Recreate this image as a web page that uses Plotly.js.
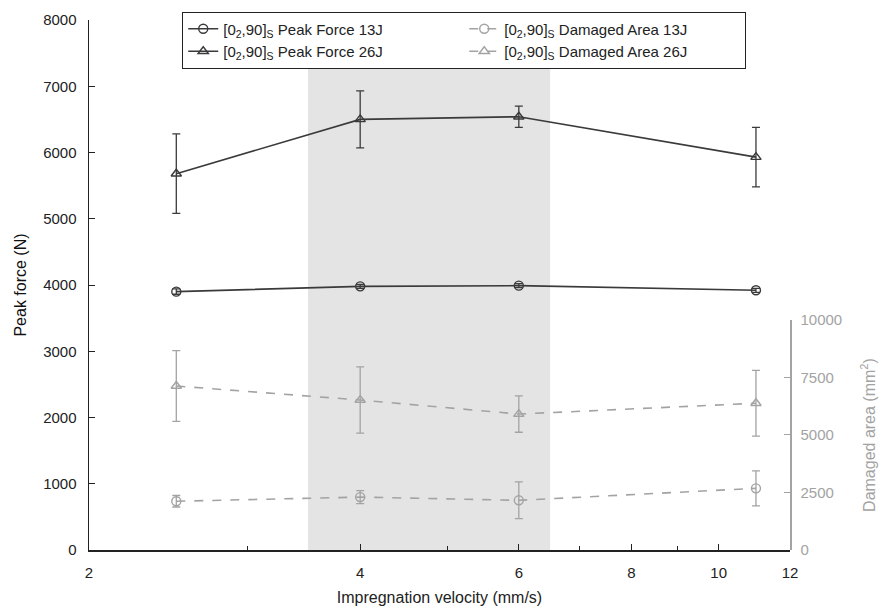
<!DOCTYPE html>
<html>
<head>
<meta charset="utf-8">
<script src="https://cdn.plot.ly/plotly-3.0.1.min.js"></script>
<style>html,body{margin:0;padding:0;background:#fff;}#chart{width:882px;height:611px;}</style>
</head>
<body>
<div id="chart"></div>
<script>
// Impregnation velocity (mm/s)
const velocity = [2.5, 4, 6, 11];

// Peak force (N)
const peakForce13 = [3900, 3980, 3990, 3920];
const peakForce13Err = [40, 30, 30, 30];
const peakForce26 = [5680, 6500, 6540, 5930];
const peakForce26Err = [600, 430, 160, 450];

// Damaged area (mm^2)
const damArea13 = [2120, 2300, 2160, 2680];
const damArea13Err = [250, 280, 800, 760];
const damArea26 = [7130, 6520, 5910, 6380];
const damArea26Err = [1540, 1440, 790, 1430];

// Shaded velocity window
const shadeRange = [3.5, 6.5];

const xTicks = [2, 4, 6, 8, 10, 12];
const xMinorTicks = [3, 5, 7, 9];
const yTicks = [0, 1000, 2000, 3000, 4000, 5000, 6000, 7000, 8000];
const y2Ticks = [0, 2500, 5000, 7500, 10000];

const dark = '#3a3a3a';
const gray = '#a3a3a3';
const font = 'Liberation Sans, Arial, sans-serif';
const lbl = '[0<sub>2</sub>,90]<sub>S</sub> ';

function tr(y, err, name, color, symbol, dash, axis) {
  return {
    x: velocity, y: y, name: name, type: 'scatter', mode: 'lines+markers',
    yaxis: axis,
    line: {color: color, width: 1.6, dash: dash},
    marker: {symbol: symbol, size: 9, color: color, line: {color: color, width: 1.4}},
    error_y: {type: 'data', array: err, visible: true, color: color, thickness: 1.3, width: 4}
  };
}

const data = [
  tr(peakForce13, peakForce13Err, lbl + 'Peak Force 13J', dark, 'circle-open', 'solid', 'y'),
  tr(damArea13, damArea13Err, lbl + 'Damaged Area 13J', gray, 'circle-open', 'dash', 'y2'),
  tr(peakForce26, peakForce26Err, lbl + 'Peak Force 26J', dark, 'triangle-up-open', 'solid', 'y'),
  tr(damArea26, damArea26Err, lbl + 'Damaged Area 26J', gray, 'triangle-up-open', 'dash', 'y2')
];

const layout = {
  width: 882, height: 611,
  margin: {l: 89, r: 92, t: 16, b: 61},
  paper_bgcolor: '#fff', plot_bgcolor: 'rgba(0,0,0,0)',
  font: {family: font, size: 14, color: '#222'},
  showlegend: true,
  legend: {
    orientation: 'h', x: 0.133, y: 1.016, xanchor: 'left', yanchor: 'top',
    bgcolor: '#fff', bordercolor: '#222', borderwidth: 1,
    entrywidth: 236, entrywidthmode: 'pixels',
    font: {family: font, size: 15, color: '#222'},
    traceorder: 'normal'
  },
  xaxis: {
    type: 'log', range: [Math.log10(2), Math.log10(12)],
    tickvals: xTicks, ticktext: xTicks.map(String),
    ticks: 'inside', ticklen: 6, tickcolor: '#222', tickwidth: 1,
    minor: {tickvals: xMinorTicks, ticks: 'inside', ticklen: 4, tickcolor: '#222', showgrid: false},
    showline: true, linecolor: '#222', linewidth: 1.5,
    showgrid: false, zeroline: false,
    ticklabelstandoff: 8,
    tickfont: {size: 15, color: '#222'},
    title: {text: 'Impregnation velocity (mm/s)', font: {size: 16, color: '#222'}, standoff: 12}
  },
  yaxis: {
    range: [0, 8000], tickvals: yTicks,
    ticks: 'inside', ticklen: 6, tickcolor: '#222',
    showline: true, linecolor: '#222', linewidth: 1.5,
    showgrid: false, zeroline: false,
    ticklabelstandoff: 8,
    tickfont: {size: 15, color: '#222'},
    title: {text: 'Peak force (N)', font: {size: 16, color: '#111'}, standoff: 12}
  },
  yaxis2: {
    domain: [0, 0.434], anchor: 'x', side: 'right',
    range: [0, 10000], tickvals: y2Ticks, ticktext: y2Ticks.map(String),
    ticks: 'inside', ticklen: 6, tickcolor: gray,
    showline: true, linecolor: gray, linewidth: 1.5,
    showgrid: false, zeroline: false,
    ticklabelstandoff: 6,
    tickfont: {size: 15, color: gray},
    title: {text: 'Damaged area (mm<sup>2</sup>)', font: {size: 16, color: gray}, standoff: 22}
  },
  shapes: [{
    type: 'rect', xref: 'x', yref: 'paper',
    x0: shadeRange[0], x1: shadeRange[1], y0: 0, y1: 1,
    fillcolor: '#e4e4e4', line: {width: 0}, layer: 'below'
  }]
};

Plotly.newPlot('chart', data, layout, {displayModeBar: false, staticPlot: true});
</script>
</body>
</html>
